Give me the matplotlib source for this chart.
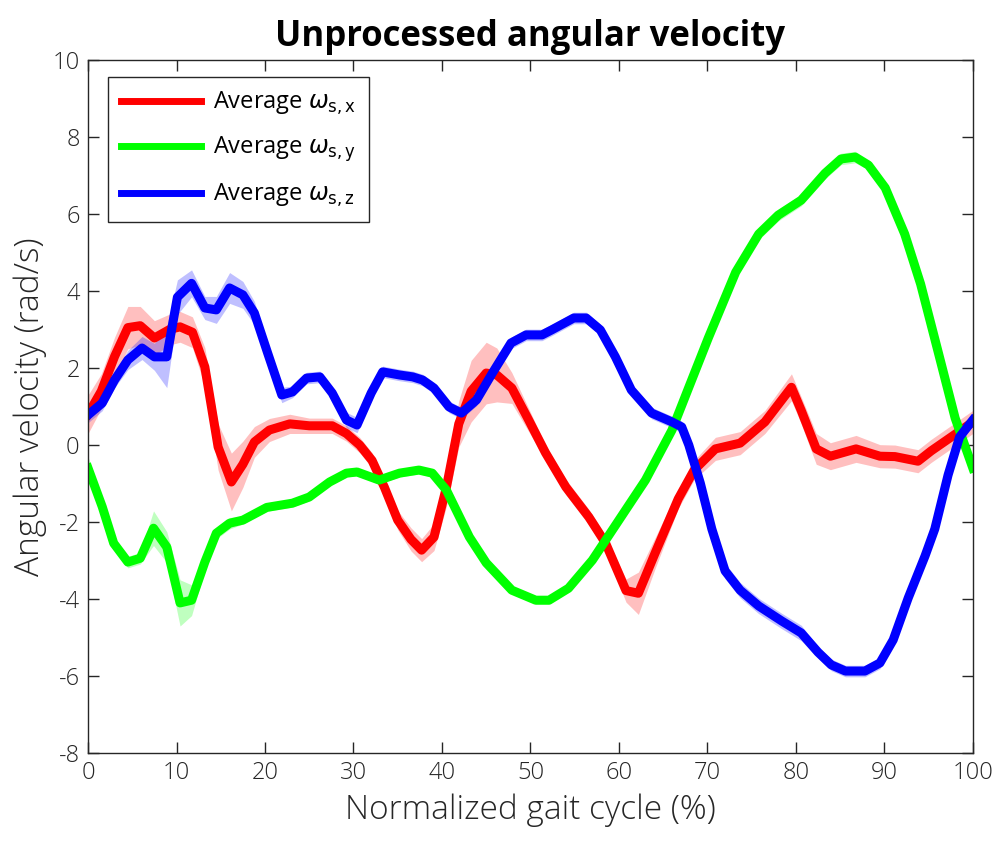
import numpy as np
import matplotlib
matplotlib.use('Agg')
import matplotlib.pyplot as plt

plt.rcParams['font.family'] = ['Open Sans', 'DejaVu Sans']
plt.rcParams['mathtext.fontset'] = 'dejavusans'
plt.rcParams['axes.unicode_minus'] = False

# red: average omega s,x
x_red = [0, 1.5, 3, 4.5, 5.9, 7.5, 9.2, 10.4, 11.8, 13.2, 14.7, 16.2, 17.5, 18.8, 20.5,
         22.8, 25, 27.6, 29.2, 30.7, 32.1, 33.5, 35, 36.5, 37.7, 39.1, 40.5, 41.9, 43.3,
         45, 46.2, 47.9, 49.8, 51.7, 54, 56.6, 58.5, 60.8, 62.2, 64.1, 66.7, 68.5, 70.9,
         73.7, 76.5, 79.5, 80.6, 82.3, 83.9, 86.8, 89.5, 91.2, 93.8, 95.3, 97.5, 100]
y_red = [0.8, 1.4, 2.3, 3.05, 3.1, 2.78, 3.0, 3.07, 2.93, 2.03, -0.05, -0.96, -0.5, 0.08,
         0.39, 0.55, 0.5, 0.5, 0.3, 0.0, -0.4, -1.1, -1.95, -2.45, -2.73, -2.39, -1.1, 0.55,
         1.4, 1.87, 1.82, 1.48, 0.65, -0.2, -1.09, -1.87, -2.55, -3.78, -3.85, -2.8, -1.4,
         -0.65, -0.1, 0.05, 0.6, 1.5, 0.9, -0.1, -0.29, -0.1, -0.29, -0.3, -0.42, -0.15, 0.2, 0.6]
sd_red = [0.5, 0.45, 0.5, 0.55, 0.5, 0.45, 0.4, 0.4, 0.4, 0.5, 0.6, 0.75, 0.6, 0.4, 0.3,
          0.25, 0.2, 0.2, 0.2, 0.2, 0.2, 0.2, 0.25, 0.3, 0.3, 0.35, 0.5, 0.6, 0.8, 0.8, 0.7,
          0.4, 0.3, 0.2, 0.2, 0.2, 0.2, 0.3, 0.55, 0.4, 0.25, 0.25, 0.3, 0.3, 0.3, 0.35, 0.35,
          0.4, 0.35, 0.35, 0.3, 0.3, 0.3, 0.3, 0.3, 0.3]

# green: average omega s,y
x_green = [0, 1.6, 2.9, 4.5, 5.9, 7.4, 8.9, 10.4, 11.7, 13.2, 14.5, 16, 17.5, 20.2, 23.1,
           25, 27.3, 29.2, 30.4, 32.9, 35.2, 37.4, 38.9, 40.5, 43.1, 45, 47.9, 50.6, 52.1,
           54.3, 57, 60, 63, 66, 67.9, 70.1, 73.2, 75.8, 78, 80.6, 83.3, 85.1, 86.7, 88.2,
           90.1, 92.3, 94.1, 96, 98, 100]
y_green = [-0.6, -1.6, -2.55, -3.04, -2.94, -2.16, -2.65, -4.1, -4.03, -3.04, -2.29, -2.03,
           -1.95, -1.62, -1.51, -1.35, -0.96, -0.73, -0.7, -0.91, -0.73, -0.65, -0.73, -1.17,
           -2.39, -3.06, -3.77, -4.03, -4.03, -3.72, -2.99, -1.95, -0.91, 0.39, 1.5, 2.78,
           4.49, 5.48, 5.97, 6.36, 7.06, 7.43, 7.48, 7.27, 6.68, 5.48, 4.18, 2.49, 0.7, -0.6]
sd_green = [0.3, 0.2, 0.15, 0.15, 0.15, 0.45, 0.4, 0.6, 0.4, 0.2, 0.15, 0.15, 0.1, 0.1, 0.1,
            0.1, 0.1, 0.1, 0.1, 0.1, 0.1, 0.1, 0.1, 0.1, 0.1, 0.1, 0.1, 0.1, 0.1, 0.1, 0.1,
            0.1, 0.1, 0.1, 0.1, 0.1, 0.12, 0.15, 0.15, 0.15, 0.15, 0.15, 0.15, 0.12, 0.1,
            0.1, 0.1, 0.1, 0.1, 0.1]

# blue: average omega s,z
x_blue = [0, 1.6, 3, 4.5, 6.1, 7.5, 8.9, 10.1, 11.7, 13.2, 14.5, 16, 17.5, 18.8, 20.3,
          21.9, 23.1, 24.7, 26.2, 27.6, 29.2, 30.4, 32, 33.3, 35.2, 36.7, 37.8, 39.1, 40.8,
          42.2, 43.9, 45.7, 47.8, 49.5, 51.3, 52.4, 54.9, 56.3, 57.9, 59.6, 61.4, 63.7, 66,
          67.1, 67.9, 69.2, 70.5, 72, 73.7, 75.8, 78.4, 80.6, 82.5, 84, 85.6, 87.8, 89.5,
          91, 92.7, 94.6, 95.7, 97.2, 98.5, 100]
y_blue = [0.78, 1.09, 1.69, 2.21, 2.52, 2.29, 2.29, 3.84, 4.2, 3.56, 3.51, 4.08, 3.9, 3.43,
          2.39, 1.3, 1.38, 1.74, 1.77, 1.35, 0.65, 0.52, 1.35, 1.9, 1.82, 1.77, 1.69, 1.48,
          0.99, 0.83, 1.17, 1.87, 2.65, 2.86, 2.86, 2.99, 3.3, 3.3, 2.99, 2.29, 1.43, 0.83,
          0.6, 0.47, 0.0, -0.99, -2.18, -3.27, -3.77, -4.18, -4.57, -4.88, -5.38, -5.71,
          -5.87, -5.87, -5.66, -5.06, -3.97, -2.88, -2.18, -0.78, 0.21, 0.65]
sd_blue = [0.2, 0.2, 0.2, 0.25, 0.3, 0.35, 0.8, 0.45, 0.35, 0.3, 0.35, 0.4, 0.35, 0.3, 0.25,
           0.2, 0.15, 0.15, 0.15, 0.15, 0.2, 0.2, 0.2, 0.15, 0.15, 0.15, 0.15, 0.15, 0.15,
           0.15, 0.15, 0.15, 0.15, 0.15, 0.15, 0.15, 0.15, 0.15, 0.15, 0.15, 0.15, 0.15,
           0.15, 0.15, 0.15, 0.15, 0.15, 0.2, 0.2, 0.2, 0.2, 0.2, 0.15, 0.15, 0.15, 0.15,
           0.15, 0.15, 0.15, 0.15, 0.15, 0.15, 0.15, 0.15]

labels = [r'Average $\omega_{\mathrm{s,x}}$', r'Average $\omega_{\mathrm{s,y}}$',
          r'Average $\omega_{\mathrm{s,z}}$']
colors = ['#ff0000', '#00ff00', '#0000ff']

fig = plt.figure(figsize=(10.05, 8.49), dpi=100)
ax = fig.add_axes([0.0876, 0.113, 0.8804, 0.8163])

series = [(x_red, y_red, sd_red), (x_green, y_green, sd_green), (x_blue, y_blue, sd_blue)]
handles = []
for (xs, ys, sd), c, lab in zip(series, colors, labels):
    xs = np.array(xs); ys = np.array(ys); sd = np.array(sd)
    ax.fill_between(xs, ys - sd, ys + sd, color=c, alpha=0.25, linewidth=0)
    h, = ax.plot(xs, ys, color=c, linewidth=6.5, label=lab, solid_joinstyle='round')
    handles.append(h)

ax.set_xlim(0, 100)
ax.set_ylim(-8, 10)
ax.set_xticks(np.arange(0, 101, 10))
ax.set_yticks(np.arange(-8, 11, 2))
ax.tick_params(direction='in', top=True, right=True, length=8, width=1,
               labelsize=17, color='#262626', labelcolor='#262626', pad=6)
for lbl in ax.get_xticklabels() + ax.get_yticklabels():
    lbl.set_fontweight('light')
for s in ax.spines.values():
    s.set_color('#262626')
    s.set_linewidth(1)

ax.set_xlabel('Normalized gait cycle (%)', fontsize=24, color='#262626', labelpad=6,
              fontweight='light')
ax.set_ylabel('Angular velocity (rad/s)', fontsize=24, color='#262626', labelpad=4,
              fontweight='light')
ax.set_title('Unprocessed angular velocity', fontsize=25, fontweight='bold', pad=10)

leg = ax.legend(handles=handles, loc='upper left', bbox_to_anchor=(0.0226, 0.9755),
                borderaxespad=0, fontsize=17, fancybox=False, framealpha=1,
                edgecolor='#262626', handlelength=3.4, handletextpad=0.5,
                labelspacing=0.75, borderpad=0.55)
leg.get_frame().set_linewidth(1)
for line in leg.get_lines():
    line.set_linewidth(5)

fig.savefig('out.png', dpi=100)
